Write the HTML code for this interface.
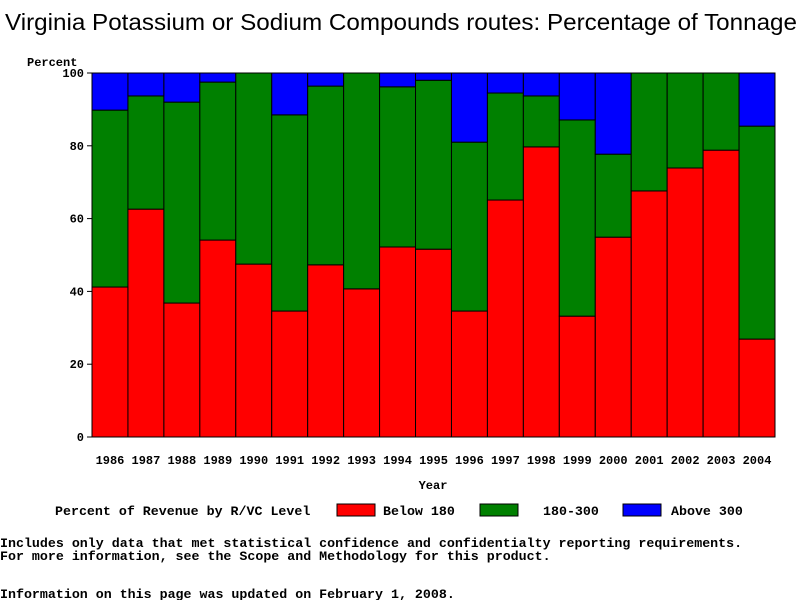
<!DOCTYPE html>
<html><head><meta charset="utf-8"><style>
body{margin:0;background:#fff;width:800px;height:600px;overflow:hidden;}
svg text{font-family:"Liberation Mono",monospace;font-size:12px;font-weight:bold;fill:#000;}
svg text.big{font-size:13.3px;}
</style></head><body>
<svg id="chart" width="800" height="600">
<text x="401" y="30" text-anchor="middle" textLength="792" lengthAdjust="spacingAndGlyphs" style="font-family:'Liberation Sans',sans-serif;font-size:23px;font-weight:normal">Virginia Potassium or Sodium Compounds routes: Percentage of Tonnage</text>
<text x="27" y="66">Percent</text>
<text x="433" y="489" text-anchor="middle">Year</text>
<g id="bars"></g>
<g id="axes"></g>
<g>
<text class="big" x="55" y="515">Percent of Revenue by R/VC Level</text>
<rect x="337" y="504" width="38" height="12" fill="#ff0000" stroke="#000"/>
<text class="big" x="383" y="515">Below 180</text>
<rect x="480" y="504" width="38" height="12" fill="#008000" stroke="#000"/>
<text class="big" x="543" y="515">180-300</text>
<rect x="623" y="504" width="38" height="12" fill="#0000ff" stroke="#000"/>
<text class="big" x="671" y="515">Above 300</text>
</g>
<text class="big" x="0" y="547">Includes only data that met statistical confidence and confidentialty reporting requirements.</text>
<text class="big" x="0" y="560">For more information, see the Scope and Methodology for this product.</text>
<text class="big" x="0" y="598">Information on this page was updated on February 1, 2008.</text>
</svg>
<script>
const years=["1986","1987","1988","1989","1990","1991","1992","1993","1994","1995","1996","1997","1998","1999","2000","2001","2002","2003","2004"];
const below180=[41.2,62.6,36.8,54.1,47.5,34.6,47.3,40.7,52.2,51.6,34.6,65.1,79.7,33.2,54.9,67.6,73.9,78.8,26.9];
const mid180to300=[48.6,31.1,55.2,43.4,52.5,53.9,49.1,59.3,44.0,46.4,46.4,29.4,14.0,53.9,22.8,32.4,26.1,21.2,58.5];
const yTicks=[0,20,40,60,80,100];
const X0=92,X1=775,Y0=437,Y1=73;
const bw=(X1-X0)/years.length;
const y=v=>Y0-(Y0-Y1)*v/100;
const x=i=>X0+i*bw;
const NS="http://www.w3.org/2000/svg";
const bars=document.getElementById('bars'),axes=document.getElementById('axes');
function mk(tag,attrs,parent){const e=document.createElementNS(NS,tag);for(const k in attrs)e.setAttribute(k,attrs[k]);parent.appendChild(e);return e;}
years.forEach((yr,i)=>{
  const a=below180[i],b=mid180to300[i];
  const segs=[[0,a,"#ff0000","below-180"],[a,a+b,"#008000","180-300"],[a+b,100,"#0000ff","above-300"]];
  segs.forEach(s=>{
    if(s[1]-s[0]<=0)return;
    const r=mk('rect',{x:x(i),y:y(s[1]),width:bw,height:y(s[0])-y(s[1]),fill:s[2],stroke:"#000","stroke-width":1},bars);
    
    
  });
  const t=mk('text',{x:x(i)+bw/2,y:464,"text-anchor":"middle"},axes);
  t.textContent=yr;
  
  
});
const frame=mk('rect',{x:X0,y:Y1,width:X1-X0,height:Y0-Y1,fill:"none",stroke:"#000"},axes);


yTicks.forEach(v=>{
  const l=mk('line',{x1:X0-5,x2:X0,y1:y(v),y2:y(v),stroke:"#000"},axes);
  
  
  const t=mk('text',{x:X0-8,y:y(v)+4,"text-anchor":"end"},axes);
  t.textContent=v;
  
  
});
</script>
</body></html>
